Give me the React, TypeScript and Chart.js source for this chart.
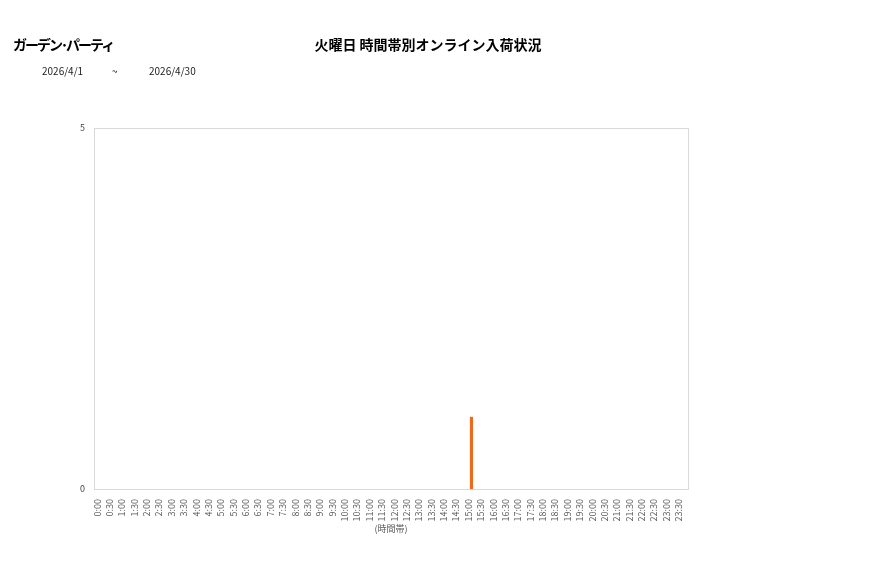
import { useEffect, useRef } from 'react';
import { Chart, registerables } from 'chart.js';

Chart.register(...registerables);

const shopName = 'ガーデン･パーティ';
const chartTitle = '火曜日 時間帯別オンライン入荷状況';
const dateFrom = '2026/4/1';
const dateTo = '2026/4/30';

// 時間帯 (30分刻み)
const timeSlots = [
  '0:00', '0:30', '1:00', '1:30', '2:00', '2:30', '3:00', '3:30',
  '4:00', '4:30', '5:00', '5:30', '6:00', '6:30', '7:00', '7:30',
  '8:00', '8:30', '9:00', '9:30', '10:00', '10:30', '11:00', '11:30',
  '12:00', '12:30', '13:00', '13:30', '14:00', '14:30', '15:00', '15:30',
  '16:00', '16:30', '17:00', '17:30', '18:00', '18:30', '19:00', '19:30',
  '20:00', '20:30', '21:00', '21:30', '22:00', '22:30', '23:00', '23:30',
];

const arrivals = [
  0, 0, 0, 0, 0, 0, 0, 0,
  0, 0, 0, 0, 0, 0, 0, 0,
  0, 0, 0, 0, 0, 0, 0, 0,
  0, 0, 0, 0, 0, 0, 1, 0,
  0, 0, 0, 0, 0, 0, 0, 0,
  0, 0, 0, 0, 0, 0, 0, 0,
];

const FONT = '"Noto Sans CJK JP", "Noto Sans", sans-serif';

// プロット領域の枠線
const frameBorder = {
  id: 'frameBorder',
  afterDraw(chart: Chart) {
    const { ctx, chartArea } = chart;
    ctx.save();
    ctx.strokeStyle = '#d9d9d9';
    ctx.lineWidth = 1;
    ctx.strokeRect(
      Math.round(chartArea.left) + 0.5,
      Math.round(chartArea.top) + 0.5,
      Math.round(chartArea.right - chartArea.left),
      Math.round(chartArea.bottom - chartArea.top)
    );
    ctx.restore();
  },
};

function ArrivalChart() {
  const canvasRef = useRef<HTMLCanvasElement>(null);

  useEffect(() => {
    if (!canvasRef.current) return;
    const chart = new Chart(canvasRef.current, {
      type: 'bar',
      data: {
        labels: timeSlots,
        datasets: [{
          data: arrivals,
          backgroundColor: '#ee6a1a',
          barPercentage: 0.25,
          categoryPercentage: 1,
        }],
      },
      options: {
        animation: false,
        responsive: false,
        maintainAspectRatio: false,
        layout: { padding: { top: 128, right: 189, bottom: 44, left: 0 } },
        plugins: {
          legend: { display: false },
          tooltip: { enabled: false },
        },
        scales: {
          x: {
            grid: { display: false },
            border: { display: false },
            ticks: {
              autoSkip: false,
              minRotation: 90,
              maxRotation: 90,
              padding: 2,
              labelOffset: -3,
              color: '#595959',
              font: { size: 9, family: FONT },
            },
            title: {
              display: true,
              text: '(時間帯)',
              color: '#595959',
              font: { size: 9, family: FONT },
              padding: { top: 2, bottom: 0 },
            },
            afterFit: (scale: any) => { scale.height = 45; },
          },
          y: {
            min: 0,
            max: 5,
            grid: { display: false },
            border: { display: false },
            ticks: {
              stepSize: 5,
              padding: 1,
              color: '#404040',
              font: { size: 9, family: FONT },
            },
            afterFit: (scale: any) => { scale.width = 94; },
          },
        },
      },
      plugins: [frameBorder],
    });
    return () => chart.destroy();
  }, []);

  return <canvas ref={canvasRef} width={877} height={578} style={{ position: 'absolute', left: 0, top: 0 }} />;
}

export default function App() {
  useEffect(() => {
    document.body.style.margin = '0';
  }, []);

  return (
    <div style={{ position: 'relative', width: 877, height: 578, background: '#fff', fontFamily: FONT, color: '#000' }}>
      <ArrivalChart />
      <div style={{ position: 'absolute', left: 13, top: 34, fontSize: 14, fontWeight: 'bold', letterSpacing: -2, whiteSpace: 'nowrap' }}>{shopName}</div>
      <div style={{ position: 'absolute', left: 0, width: 856, top: 34, fontSize: 14, fontWeight: 'bold', textAlign: 'center', whiteSpace: 'nowrap' }}>{chartTitle}</div>
      <div style={{ position: 'absolute', left: 42, top: 63, fontSize: 10, color: '#222' }}>{dateFrom}</div>
      <div style={{ position: 'absolute', left: 112, top: 63, fontSize: 10, color: '#222' }}>~</div>
      <div style={{ position: 'absolute', left: 149, top: 63, fontSize: 10, color: '#222' }}>{dateTo}</div>
    </div>
  );
}
